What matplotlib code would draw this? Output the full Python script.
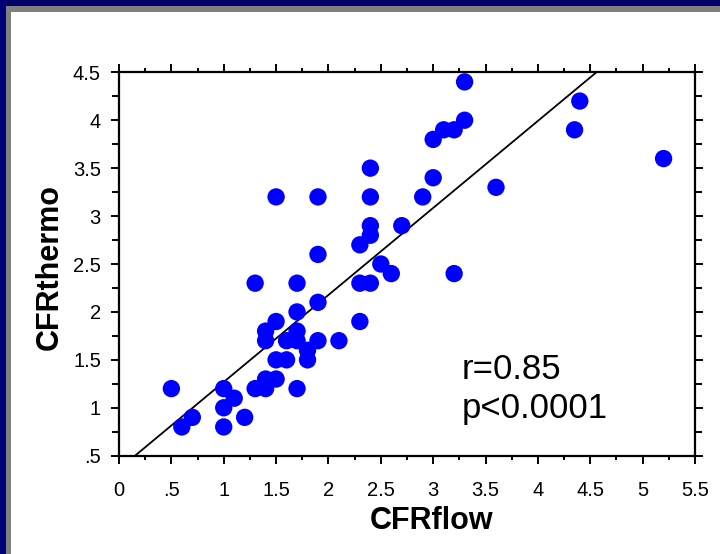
import matplotlib
matplotlib.use("Agg")
import matplotlib.pyplot as plt
from matplotlib.patches import Rectangle
from matplotlib.ticker import MultipleLocator, FixedLocator, FixedFormatter

# ---- data ----
cfr_flow = [0.5, 0.6, 0.7, 1.0, 1.0, 1.0, 1.1, 1.2, 1.3, 1.4, 1.4, 1.5, 1.7,
            1.5, 1.6, 1.8, 1.8, 1.4, 1.4, 1.5, 1.6, 1.7, 1.7, 1.9, 2.1, 1.7,
            1.9, 2.3, 1.3, 1.7, 2.3, 2.4, 1.9, 2.5, 2.6, 3.2, 2.3, 2.4, 2.4,
            2.7, 1.5, 1.9, 2.4, 2.9, 2.4, 3.0, 3.6, 3.0, 3.1, 3.2, 3.3, 3.3,
            4.35, 4.4, 5.2]
cfr_thermo = [1.2, 0.8, 0.9, 0.8, 1.0, 1.2, 1.1, 0.9, 1.2, 1.2, 1.3, 1.3, 1.2,
              1.5, 1.5, 1.5, 1.6, 1.7, 1.8, 1.9, 1.7, 1.7, 1.8, 1.7, 1.7, 2.0,
              2.1, 1.9, 2.3, 2.3, 2.3, 2.3, 2.6, 2.5, 2.4, 2.4, 2.7, 2.8, 2.9,
              2.9, 3.2, 3.2, 3.2, 3.2, 3.5, 3.4, 3.3, 3.8, 3.9, 3.9, 4.0, 4.4,
              3.9, 4.2, 3.6]
fit_slope = 0.908
fit_intercept = 0.361

x_ticks = [0, 0.5, 1, 1.5, 2, 2.5, 3, 3.5, 4, 4.5, 5, 5.5]
x_ticklabels = ["0", ".5", "1", "1.5", "2", "2.5", "3", "3.5", "4", "4.5", "5", "5.5"]
y_ticks = [0.5, 1, 1.5, 2, 2.5, 3, 3.5, 4, 4.5]
y_ticklabels = [".5", "1", "1.5", "2", "2.5", "3", "3.5", "4", "4.5"]
x_label = "CFRflow"
y_label = "CFRthermo"
stats_lines = ["r=0.85", "p<0.0001"]

plt.rcParams['font.family'] = ['Liberation Sans', 'DejaVu Sans']

W, H = 720, 554
fig = plt.figure(figsize=(W / 100, H / 100), dpi=100)
fig.patch.set_facecolor("white")

# slide frame
gray = "#808080"
fig.add_artist(Rectangle((0, 1 - 12 / H), 1, 12 / H, transform=fig.transFigure,
                         facecolor=gray, edgecolor="none", zorder=0))
fig.add_artist(Rectangle((0, 0), 11 / W, 1, transform=fig.transFigure,
                         facecolor=gray, edgecolor="none", zorder=0))
fig.add_artist(Rectangle((0, 1 - 6 / H), 1, 6 / H, transform=fig.transFigure,
                         facecolor="#000066", edgecolor="none", zorder=1))
fig.add_artist(Rectangle((0, 0), 6 / W, 1, transform=fig.transFigure,
                         facecolor="#000078", edgecolor="none", zorder=1))

x0, x1, yt, yb = 119, 695, 72.3, 455.7
ax = fig.add_axes([x0 / W, 1 - yb / H, (x1 - x0) / W, (yb - yt) / H])
ax.set_xlim(0, 5.5)
ax.set_ylim(0.5, 4.5)

def axfrac(px, py):
    return (px - x0) / (x1 - x0), 1 - (py - yt) / (yb - yt)

ax.scatter(cfr_flow, cfr_thermo, s=12.5 ** 2, color="#0000FF",
           edgecolors="none", zorder=3, clip_on=False)
ax.axline((0, fit_intercept), slope=fit_slope, color="black", lw=1.3, zorder=2)

for s in ax.spines.values():
    s.set_linewidth(1.6)
    s.set_color("black")

ax.xaxis.set_major_locator(FixedLocator(x_ticks))
ax.xaxis.set_major_formatter(FixedFormatter(x_ticklabels))
ax.xaxis.set_minor_locator(MultipleLocator(0.25))
ax.yaxis.set_major_locator(FixedLocator(y_ticks))
ax.yaxis.set_major_formatter(FixedFormatter(y_ticklabels))
ax.yaxis.set_minor_locator(MultipleLocator(0.25))

ax.tick_params(axis="x", which="major", direction="out", length=6, width=1.4,
               top=True, labelsize=14.5, pad=12)
ax.tick_params(axis="x", which="minor", direction="out", length=3, width=1.4, top=True)
ax.tick_params(axis="y", which="major", direction="out", length=6, width=1.4,
               right=True, labelsize=14.5, pad=7)
ax.tick_params(axis="y", which="minor", direction="out", length=5, width=1.4, right=True)

ax.text(*axfrac(432, 529), x_label, transform=ax.transAxes, ha="center",
        va="baseline", fontsize=22, fontweight="bold")
ax.text(*axfrac(50, 267), y_label, transform=ax.transAxes, ha="center",
        va="center", fontsize=22, fontweight="bold", rotation=90)

ax.text(*axfrac(462, 379), stats_lines[0], transform=ax.transAxes, ha="left",
        va="baseline", fontsize=25)
ax.text(*axfrac(462, 418), stats_lines[1], transform=ax.transAxes, ha="left",
        va="baseline", fontsize=25)

fig.savefig("out.png", dpi=100)
